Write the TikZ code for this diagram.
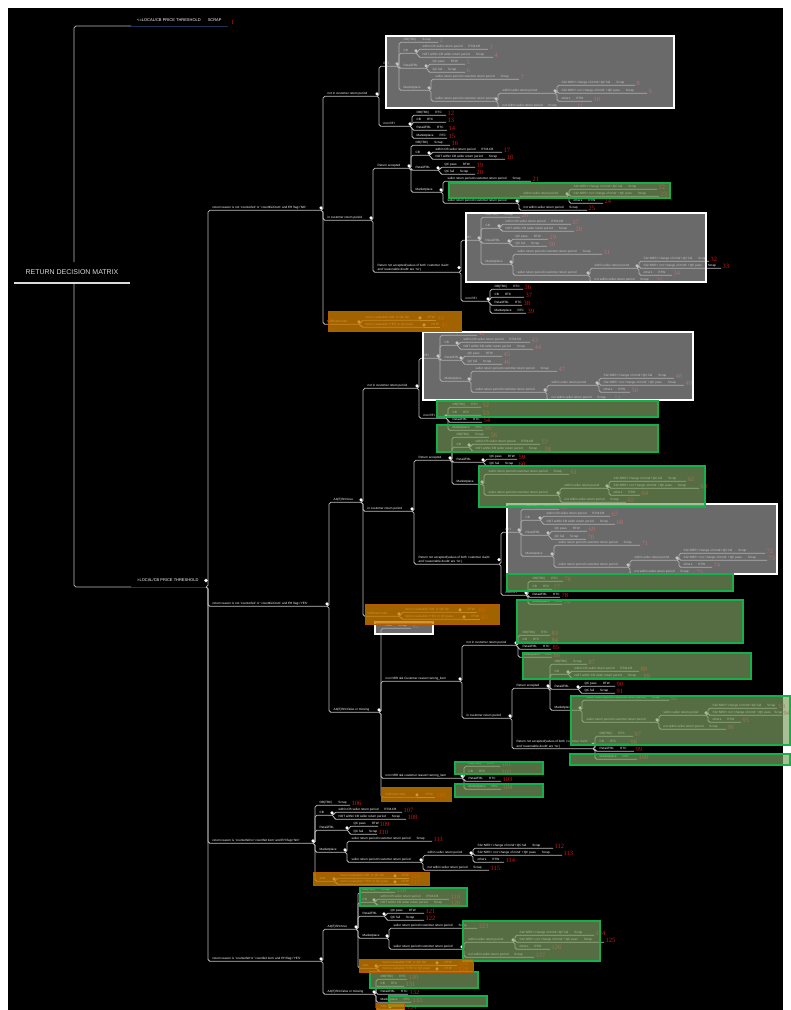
\documentclass[tikz,border=0pt]{standalone}
\usepackage{fontspec}
\setmainfont{Liberation Sans}
\newfontfamily\numfont{Liberation Serif}
\pgfdeclarelayer{bg}
\pgfdeclarelayer{fg}
\pgfsetlayers{bg,main,fg}

\definecolor{linec}{HTML}{BDBDBD}
\definecolor{navyc}{HTML}{22335A}
\definecolor{numc}{HTML}{D01818}
\definecolor{rootc}{HTML}{DADADA}
\definecolor{greenb}{HTML}{14B04C}
\definecolor{greenf}{HTML}{80A264}
\definecolor{grayf}{HTML}{A6A6A6}
\definecolor{orangef}{HTML}{C87C00}
\definecolor{oranged}{HTML}{B85A00}

\tikzset{
  conn/.style={draw=linec, line width=0.75pt, rounded corners=1.8pt},
  navyline/.style={draw=navyc, line width=1pt},
  rootline/.style={draw=rootc, line width=2.2pt},
  roottext/.style={text=rootc, font=\fontsize{7}{8}\selectfont, inner sep=0pt},
  rtopic/.style={anchor=west, inner xsep=6pt, inner ysep=0.5pt, text=white, font=\fontsize{4}{5}\selectfont},
  topic/.style={anchor=south west, inner xsep=4.5pt, inner ysep=0.8pt, text=white,
    font=\fontsize{3.1}{3.8}\selectfont, text height=2.3pt, text depth=0.7pt},
  topicII/.style={anchor=south west, inner xsep=4.5pt, inner ysep=0.8pt, text=white,
    font=\fontsize{3.1}{4.4}\selectfont, align=left},
  num/.style={anchor=base west, inner sep=0pt, text=numc, font=\numfont\fontsize{6.5}{6.5}\selectfont},
  knob/.style={fill=white},
  graybox/.style={fill=grayf, fill opacity=0.64, draw=white, line width=2.4pt},
  greenbox/.style={fill=greenf, fill opacity=0.68, draw=greenb, line width=2.3pt},
  orangebox/.style={fill=orangef, fill opacity=0.8, draw=oranged, line width=1pt},
}

% gap between a condition and its outcome
\newcommand\gp{\hspace{6pt}}
% topic: [style]{name}{parent}{x start}{x end}{y}{text}
\newcommand\tpc[7][topic]{%
  \node[#1] (#2) at (#4,#6+2.3) {#7};%
  \coordinate (#2-e) at (#5,#6+2.3);%
  \begin{pgfonlayer}{bg}\draw[conn] (#3-e) -| (#2.south west) -- (#2-e);\end{pgfonlayer}}
% topic with a collapse knob
\newcommand\td[7][topic]{\tpc[#1]{#2}{#3}{#4}{#5}{#6}{#7}\fill[knob] (#2-e |- #2.east) circle (1.7pt);}
% leaf with its case number
\newcommand\lf[8][topic]{\tpc[#1]{#2}{#3}{#4}{#5}{#6}{#7}\node[num] (#2-n) at ([xshift=1.5pt]#2-e) {#8};}
% leaf in line with its parent
\newcommand\lfs[7]{%
  \node[topic] (#1) at (#3,#5+2.3) {#6};%
  \coordinate (#1-e) at (#4,#5+2.3);%
  \begin{pgfonlayer}{bg}\draw[conn] (#2-e) -- (#1-e);\end{pgfonlayer}%
  \node[num] (#1-n) at ([xshift=1.5pt]#1-e) {#7};}

\begin{document}
\begin{tikzpicture}[x=1pt,y=-1pt]
\useasboundingbox (0,0) rectangle (791,1010);
\begin{pgfonlayer}{bg}
  \fill[white] (0,0) rectangle (791,1010);
  \fill[black] (8,8) rectangle (783,1010);
\end{pgfonlayer}

% ---------- root ----------
\node[roottext] (root) at (72,272) {RETURN DECISION MATRIX};
\coordinate (root-n) at (74,262);
\coordinate (root-s) at (74,283);
\draw[rootline] (root-s -| 14,0) -- (root-s -| 130,0);

\node[rtopic] (R1) at (131,20) {<=LOCAL/CB PRICE THRESHOLD\hspace{7pt}SCRAP};
\coordinate (R1-s) at (131,26);
\coordinate (R1-e) at (228,26);
\node[num] (R1-n) at (231,24) {1};
\node[rtopic] (R2) at (131,580.5) {>LOCAL/CB PRICE THRESHOLD};
\coordinate (R2-s) at (131,587);
\coordinate (R2-e) at (206,587);
\begin{pgfonlayer}{bg}
  \draw[conn] (root-n) |- (R1-s);
  \draw[conn] (root-s) |- (R2-s);
  \draw[navyline] (R1-s) -- (R1-e);
  \draw[navyline] (R2-s) -- (R2-e);
\end{pgfonlayer}
\fill[knob] (R2-e |- R2.east) circle (1.8pt);

% ---------- not counterfeit, EH = NO ----------
\td{A}{R2}{208}{321}{208}{return reason is not 'counterfeit' or 'counttfeit item' and EH flag='NO'}
\td{A1}{A}{323}{377}{94}{not in customer return period}
\td{A1a}{A1}{379}{397}{64}{RFI}
\lf{A1a1}{A1a}{399}{438}{40}{OB(TBC)\gp Scrap}{2}
\td{A1a2}{A1a}{399}{416}{51}{CB}
\lf{A1a2a}{A1a2}{418}{488}{47}{within CB seller return period\gp RTM-CB}{3}
\lf{A1a2b}{A1a2}{418}{493}{55}{NOT within CB seller return period\gp Scrap}{4}
\td{A1a3}{A1a}{399}{426}{66}{Retail/FBL}
\lf{A1a3a}{A1a3}{428}{465}{62}{QC pass\gp RTW}{5}
\lf{A1a3b}{A1a3}{428}{465}{70}{QC fail\gp Scrap}{6}
\td{A1a4}{A1a}{399}{429}{88}{Marketplace}
\lf{A1a4a}{A1a4}{431}{519}{77}{seller return period>customer return period\gp Scrap}{7}
\td{A1a4b}{A1a4}{431}{496}{99}{seller return period<customer return period}
\td{A1a4b1}{A1a4b}{498}{555}{91}{within seller return period}
\lf{A1a4b1a}{A1a4b1}{557}{635}{83}{SG+NRR+'change of mind'+QC fail\gp Scrap}{8}
\lf{A1a4b1b}{A1a4b1}{557}{647}{91}{SG+NRR+ not 'change of mind' +QC pass\gp Scrap}{9}
\lf{A1a4b1c}{A1a4b1}{557}{592}{99}{others\gp RTW}{10}
\lf{A1a4b2}{A1a4b}{498}{575}{106}{not within seller return period\gp Scrap}{11}
\td{A1b}{A1}{379}{410}{124}{non RFI}
\lf{A1b1}{A1b}{412}{446}{113}{OB(TBC)\gp RTC}{12}
\lf{A1b2}{A1b}{412}{446}{120}{CB\gp RTC}{13}
\lf{A1b3}{A1b}{412}{447}{128}{Retail/FBL\gp RTC}{14}
\lf{A1b4}{A1b}{412}{447}{136}{Marketplace\gp RTC}{15}

\td{A2}{A}{323}{371}{218}{in customer return period}
\td{A2a}{A2}{373}{409}{166}{Return accepted}
\lf{A2a1}{A2a}{411}{450}{143}{OB(TBC)\gp Scrap}{16}
\td{A2a2}{A2a}{411}{429}{153}{CB}
\lf{A2a2a}{A2a2}{431}{502}{150}{within CB seller return period\gp RTM-CB}{17}
\lf{A2a2b}{A2a2}{431}{505}{157}{NOT within CB seller return period\gp Scrap}{18}
\td{A2a3}{A2a}{411}{438}{168}{Retail/FBL}
\lf{A2a3a}{A2a3}{440}{475}{165}{QC pass\gp RTW}{19}
\lf{A2a3b}{A2a3}{440}{475}{172}{QC fail\gp Scrap}{20}
\td{A2a4}{A2a}{411}{441}{190}{Marketplace}
\lf{A2a4a}{A2a4}{443}{531}{179}{seller return period>customer return period\gp Scrap}{21}
\td{A2a4b}{A2a4}{443}{517}{201}{seller return period<customer return period}
\td{A2a4b1}{A2a4b}{519}{567}{194}{within seller return period}
\lf{A2a4b1a}{A2a4b1}{569}{657}{187}{SG+NRR+'change of mind'+QC fail\gp Scrap}{22}
\lf{A2a4b1b}{A2a4b1}{569}{659}{194}{SG+NRR+ not 'change of mind' +QC pass\gp Scrap}{23}
\lf{A2a4b1c}{A2a4b1}{569}{603}{201}{others\gp RTW}{24}
\lf{A2a4b2}{A2a4b}{519}{587}{208}{not within seller return period\gp Scrap}{25}

\td[topicII]{A2b}{A2}{373}{459}{270}{Return not accepted(values of both 'customer claim'\\ and 'reasonable doubt' are 'no')}
\td{A2b1}{A2b}{461}{479}{238}{RFI}
\lf{A2b1a}{A2b1}{481}{520}{215}{OB(TBC)\gp Scrap}{26}
\td{A2b1b}{A2b1}{481}{499}{226}{CB}
\lf{A2b1b1}{A2b1b}{501}{571}{222}{within CB seller return period\gp RTM-CB}{27}
\lf{A2b1b2}{A2b1b}{501}{574}{229}{NOT within CB seller return period\gp Scrap}{28}
\td{A2b1c}{A2b1}{481}{509}{241}{Retail/FBL}
\lf{A2b1c1}{A2b1c}{511}{548}{237}{QC pass\gp RTW}{29}
\lf{A2b1c2}{A2b1c}{511}{547}{244}{QC fail\gp Scrap}{30}
\td{A2b1d}{A2b1}{481}{511}{262}{Marketplace}
\lf{A2b1d1}{A2b1d}{513}{602}{252}{seller return period>customer return period\gp Scrap}{31}
\td{A2b1d2}{A2b1d}{513}{588}{273}{seller return period<customer return period}
\td{A2b1d2a}{A2b1d2}{590}{637}{266}{within seller return period}
\lf{A2b1d2a1}{A2b1d2a}{639}{709}{259}{SG+NRR+'change of mind'+QC fail\gp Scrap}{32}
\lf{A2b1d2a2}{A2b1d2a}{639}{721}{266}{SG+NRR+ not 'change of mind' +QC pass\gp Scrap}{33}
\lf{A2b1d2a3}{A2b1d2a}{639}{672}{273}{others\gp RTW}{34}
\lf{A2b1d2b}{A2b1d2}{590}{655}{280}{not within seller return period\gp Scrap}{35}
\td{A2b2}{A2b}{461}{488}{299}{non RFI}
\lf{A2b2a}{A2b2}{490}{523}{287}{OB(TBC)\gp RTC}{36}
\lf{A2b2b}{A2b2}{490}{524}{295}{CB\gp RTC}{37}
\lf{A2b2c}{A2b2}{490}{522}{303}{Retail/FBL\gp RTC}{38}
\lf{A2b2d}{A2b2}{490}{526}{311}{Marketplace\gp RTC}{39}

\td{A3}{A}{323}{359}{322}{fulfilment=AGL}
\td{A3a}{A3}{361}{420}{318}{Item is saleable='NO' or QC fail}
\lfs{A3a1}{A3a}{423}{436}{318}{RTW}{40}
\td{A3b}{A3}{361}{424}{325}{Item is saleable='YES' or QC pass}
\lfs{A3b1}{A3b}{427}{440}{325}{RTW}{41}

% ---------- not counterfeit, EH = YES ----------
\td{B}{R2}{208}{327}{604}{return reason is not 'counterfeit' or 'counttfeit item' and EH flag='YES'}
\td{B1}{B}{329}{361}{500}{A4(E)SN=true}
\td{B1a}{B1}{363}{417}{386}{not in customer return period}
\td{B1a1}{B1a}{419}{438}{356}{RFI}
\lf{B1a1a}{B1a1}{440}{477}{333}{OB(TBC)\gp Scrap}{42}
\td{B1a1b}{B1a1}{440}{457}{343}{CB}
\lf{B1a1b1}{B1a1b}{459}{530}{340}{within CB seller return period\gp RTM-CB}{43}
\lf{B1a1b2}{B1a1b}{459}{533}{347}{NOT within CB seller return period\gp Scrap}{44}
\td{B1a1c}{B1a1}{440}{461}{358}{Retail/FBL}
\lf{B1a1c1}{B1a1c}{463}{502}{354}{QC pass\gp RTW}{45}
\lf{B1a1c2}{B1a1c}{463}{502}{362}{QC fail\gp Scrap}{46}
\td{B1a1d}{B1a1}{440}{469}{379}{Marketplace}
\lf{B1a1d1}{B1a1d}{471}{557}{369}{seller return period>customer return period\gp Scrap}{47}
\td{B1a1d2}{B1a1d}{471}{545}{390}{seller return period<customer return period}
\td{B1a1d2a}{B1a1d2}{547}{597}{383}{within seller return period}
\lf{B1a1d2a1}{B1a1d2a}{599}{674}{376}{SG+NRR+'change of mind'+QC fail\gp Scrap}{48}
\lf{B1a1d2a2}{B1a1d2a}{599}{684}{383}{SG+NRR+ not 'change of mind' +QC pass\gp Scrap}{49}
\lf{B1a1d2a3}{B1a1d2a}{599}{630}{390}{others\gp RTW}{50}
\lf{B1a1d2b}{B1a1d2}{547}{613}{398}{not within seller return period\gp Scrap}{51}
\td{B1a2}{B1a}{419}{446}{416}{non RFI}
\lf{B1a2a}{B1a2}{448}{481}{405}{OB(TBC)\gp RTC}{52}
\lf{B1a2b}{B1a2}{448}{481}{413}{CB\gp RTC}{53}
\lf{B1a2c}{B1a2}{448}{482}{420}{Retail/FBL\gp RTC}{54}
\lf{B1a2d}{B1a2}{448}{483}{428}{Marketplace\gp RTC}{55}

\td{B1b}{B1}{363}{412}{509}{in customer return period}
\td{B1b1}{B1b}{414}{450}{458}{Return accepted}
\lf{B1b1a}{B1b1}{452}{489}{435}{OB(TBC)\gp Scrap}{56}
\td{B1b1b}{B1b1}{452}{469}{445}{CB}
\lf{B1b1b1}{B1b1b}{471}{540}{442}{within CB seller return period\gp RTM-CB}{57}
\lf{B1b1b2}{B1b1b}{471}{543}{449}{NOT within CB seller return period\gp Scrap}{58}
\td{B1b1c}{B1b1}{452}{483}{460}{Retail/FBL}
\lf{B1b1c1}{B1b1c}{485}{517}{457}{QC pass\gp RTW}{59}
\lf{B1b1c2}{B1b1c}{485}{517}{464}{QC fail\gp Scrap}{60}
\td{B1b1d}{B1b1}{452}{482}{482}{Marketplace}
\lf{B1b1d1}{B1b1d}{484}{569}{472}{seller return period>customer return period\gp Scrap}{61}
\td{B1b1d2}{B1b1d}{484}{558}{493}{seller return period<customer return period}
\td{B1b1d2a}{B1b1d2}{560}{607}{486}{within seller return period}
\lf{B1b1d2a1}{B1b1d2a}{609}{686}{479}{SG+NRR+'change of mind'+QC fail\gp Scrap}{62}
\lf{B1b1d2a2}{B1b1d2a}{609}{699}{486}{SG+NRR+ not 'change of mind' +QC pass\gp Scrap}{63}
\lf{B1b1d2a3}{B1b1d2a}{609}{640}{493}{others\gp RTW}{64}
\lf{B1b1d2b}{B1b1d2}{560}{626}{500}{not within seller return period\gp Scrap}{65}

\td[topicII]{B1b2}{B1b}{414}{499}{562}{Return not accepted(values of both 'customer claim'\\ and 'reasonable doubt' are 'no')}
\td{B1b2a}{B1b2}{501}{519}{530}{RFI}
\lf{B1b2a1}{B1b2a}{521}{559}{507}{OB(TBC)\gp Scrap}{66}
\td{B1b2a2}{B1b2a}{521}{540}{518}{CB}
\lf{B1b2a2a}{B1b2a2}{542}{610}{514}{within CB seller return period\gp RTM-CB}{67}
\lf{B1b2a2b}{B1b2a2}{542}{615}{522}{NOT within CB seller return period\gp Scrap}{68}
\td{B1b2a3}{B1b2a}{521}{548}{533}{Retail/FBL}
\lf{B1b2a3a}{B1b2a3}{550}{587}{529}{QC pass\gp RTW}{69}
\lf{B1b2a3b}{B1b2a3}{550}{586}{537}{QC fail\gp Scrap}{70}
\td{B1b2a4}{B1b2a}{521}{552}{554}{Marketplace}
\lf{B1b2a4a}{B1b2a4}{554}{640}{543}{seller return period>customer return period\gp Scrap}{71}
\td{B1b2a4b}{B1b2a4}{554}{628}{565}{seller return period<customer return period}
\td{B1b2a4b1}{B1b2a4b}{630}{677}{558}{within seller return period}
\lf{B1b2a4b1a}{B1b2a4b1}{679}{765}{551}{SG+NRR+'change of mind'+QC fail\gp Scrap}{72}
\lf{B1b2a4b1b}{B1b2a4b1}{679}{767}{558}{SG+NRR+ not 'change of mind' +QC pass\gp Scrap}{73}
\lf{B1b2a4b1c}{B1b2a4b1}{679}{712}{565}{others\gp RTW}{74}
\lf{B1b2a4b2}{B1b2a4b}{630}{695}{572}{not within seller return period\gp Scrap}{75}
\td{B1b2b}{B1b2}{501}{526}{593}{non RFI}
\lf{B1b2b1}{B1b2b}{528}{563}{579}{OB(TBC)\gp RTC}{76}
\lf{B1b2b2}{B1b2b}{528}{552}{587}{CB\gp RTC}{77}
\lf{B1b2b3}{B1b2b}{528}{560}{595}{Retail/FBL\gp RTC}{78}
\lf{B1b2b4}{B1b2b}{528}{562}{602}{Marketplace\gp RTC}{79}

\td{B1c}{B1}{363}{399}{614}{fulfilment=AGL}
\td{B1c1}{B1c}{401}{460}{610}{Item is saleable='NO' or QC fail}
\lfs{B1c1a}{B1c1}{463}{477}{610}{RTW}{80}
\td{B1c2}{B1c}{401}{464}{617}{Item is saleable='YES' or QC pass}
\lfs{B1c2a}{B1c2}{467}{480}{617}{RTW}{81}

\td{B2}{B}{329}{379}{710}{A4(E)SN=false or missing}
\lf{B2a}{B2}{381}{411}{626}{NRR\gp Scrap}{82}
\td{B2b}{B2}{381}{460}{679}{non NRR \&\& Customer reason=wrong\_item}
\td{B2b1}{B2b}{462}{516}{643}{not in customer return period}
\lf{B2b1a}{B2b1}{518}{550}{633}{OB(TBC)\gp RTC}{83}
\lf{B2b1b}{B2b1}{518}{550}{640}{CB\gp RTC}{84}
\lf{B2b1c}{B2b1}{518}{551}{647}{Retail/FBL\gp RTC}{85}
\lf{B2b1d}{B2b1}{518}{552}{655}{Marketplace\gp RTC}{86}
\td{B2b2}{B2b}{462}{510}{716}{in customer return period}
\td{B2b2a}{B2b2}{512}{548}{686}{Return accepted}
\lf{B2b2a1}{B2b2a}{550}{587}{662}{OB(TBC)\gp Scrap}{87}
\td{B2b2a2}{B2b2a}{550}{568}{672}{CB}
\lf{B2b2a2a}{B2b2a2}{570}{639}{669}{within CB seller return period\gp RTM-CB}{88}
\lf{B2b2a2b}{B2b2a2}{570}{642}{676}{NOT within CB seller return period\gp Scrap}{89}
\td{B2b2a3}{B2b2a}{550}{578}{687}{Retail/FBL}
\lf{B2b2a3a}{B2b2a3}{580}{615}{684}{QC pass\gp RTW}{90}
\lf{B2b2a3b}{B2b2a3}{580}{615}{691}{QC fail\gp Scrap}{91}
\td{B2b2a4}{B2b2a}{550}{580}{708}{Marketplace}
\lf{B2b2a4a}{B2b2a4}{582}{669}{698}{seller return period>customer return period\gp Scrap}{92}
\td{B2b2a4b}{B2b2a4}{582}{657}{720}{seller return period<customer return period}
\td{B2b2a4b1}{B2b2a4b}{659}{706}{713}{within seller return period}
\lf{B2b2a4b1a}{B2b2a4b1}{708}{777}{706}{SG+NRR+'change of mind'+QC fail\gp Scrap}{93}
\lf{B2b2a4b1b}{B2b2a4b1}{708}{782}{713}{SG+NRR+ not 'change of mind' +QC pass\hspace{3.5pt}Scrap}{94}
\lf{B2b2a4b1c}{B2b2a4b1}{708}{741}{720}{others\gp RTW}{95}
\lf{B2b2a4b2}{B2b2a4b}{659}{726}{727}{not within seller return period\gp Scrap}{96}
\td[topicII]{B2b2b}{B2b2}{512}{593}{746.5}{Return not accepted(values of both 'customer claim'\\ and 'reasonable doubt' are 'no')}
\lf{B2b2b1}{B2b2b}{595}{633}{734}{OB(TBC)\gp RTC}{97}
\lf{B2b2b2}{B2b2b}{595}{629}{742}{CB\gp RTC}{98}
\lf{B2b2b3}{B2b2b}{595}{634}{749}{Retail/FBL\gp RTC}{99}
\lf{B2b2b4}{B2b2b}{595}{637}{757}{Marketplace\gp RTC}{100}
\td{B2c}{B2}{381}{462}{776}{non NRR \&\& customer reason!=wrong\_item}
\lf{B2c1}{B2c}{464}{500}{764}{OB(TBC)\gp RTC}{101}
\lf{B2c2}{B2c}{464}{500}{772}{CB\gp RTC}{102}
\lf{B2c3}{B2c}{464}{501}{779}{Retail/FBL\gp RTC}{103}
\lf{B2c4}{B2c}{464}{501}{787}{Marketplace\gp RTC}{104}
\td{B2d}{B2}{381}{417}{795}{fulfilment=AGL}
\lfs{B2d1}{B2d}{421}{435}{795}{RTW}{105}

% ---------- counterfeit, EH = NO ----------
\td{C}{R2}{208}{313}{841}{return reason is 'counterfeit/or 'countfeit item' and EH flag='NO'}
\lf{C1}{C}{315}{350}{803}{OB(TBC)\gp Scrap}{106}
\td{C2}{C}{315}{332}{813}{CB}
\lf{C2a}{C2}{334}{402}{810}{within CB seller return period\gp RTM-CB}{107}
\lf{C2b}{C2}{334}{406}{817}{NOT within CB seller return period\gp Scrap}{108}
\td{C3}{C}{315}{347}{828}{Retail/FBL}
\lf{C3a}{C3}{349}{378}{824}{QC pass\gp RTW}{109}
\lf{C3b}{C3}{349}{377}{832}{QC fail\gp Scrap}{110}
\td{C4}{C}{315}{345}{850}{Marketplace}
\lf{C4a}{C4}{347}{432}{839}{seller return period>customer return period\gp Scrap}{111}
\td{C4b}{C4}{347}{421}{860}{seller return period<customer return period}
\td{C4b1}{C4b}{423}{471}{853}{within seller return period}
\lf{C4b1a}{C4b1}{473}{553}{846}{SG+NRR+'change of mind'+QC fail\gp Scrap}{112}
\lf{C4b1b}{C4b1}{473}{562}{853}{SG+NRR+ not 'change of mind' +QC pass\gp Scrap}{113}
\lf{C4b1c}{C4b1}{473}{504}{860}{others\gp RTW}{114}
\lf{C4b2}{C4b}{423}{489}{868}{not within seller return period\gp Scrap}{115}
\td{C5}{C}{315}{334}{879}{AGL}
\td{C5a}{C5}{336}{395}{876}{Item is saleable='NO' or QC fail}
\lfs{C5a1}{C5a}{397}{409}{876}{RTW}{116}
\td{C5b}{C5}{336}{395}{882}{Item is saleable='YES' or QC pass}
\lfs{C5b1}{C5b}{397}{409}{882}{RTW}{117}

% ---------- counterfeit, EH = YES ----------
\td{D}{R2}{208}{321}{959}{return reason is 'counterfeit'or 'countfeit item' and EH flag='YES'}
\td{D1}{D}{323}{356}{927}{A4(E)SN=true}
\lf{D1a}{D1}{358}{395}{890}{OB(TBC)\gp Scrap}{118}
\td{D1b}{D1}{358}{374}{900}{CB}
\lf{D1b1}{D1b}{376}{449}{897}{within CB seller return period\gp RTM-CB}{119}
\lf{D1b2}{D1b}{376}{449}{903}{NOT within CB seller return period\gp Scrap}{120}
\td{D1c}{D1}{358}{384}{914}{Retail/FBL}
\lf{D1c1}{D1c}{386}{424}{911}{QC pass\gp RTW}{121}
\lf{D1c2}{D1c}{386}{424}{918}{QC fail\gp Scrap}{122}
\td{D1d}{D1}{358}{387}{936}{Marketplace}
\lf{D1d1}{D1d}{389}{477}{926}{seller return period>customer return period\gp Scrap}{123}
\td{D1d2}{D1d}{389}{462}{947}{seller return period<customer return period}
\td{D1d2a}{D1d2}{464}{513}{940}{within seller return period}
\lf{D1d2a1}{D1d2a}{515}{594}{933}{SG+NRR+'change of mind'+QC fail\gp Scrap}{124}
\lf{D1d2a2}{D1d2a}{515}{604}{940}{SG+NRR+ not 'change of mind' +QC pass\gp Scrap}{125}
\lf{D1d2a3}{D1d2a}{515}{550}{947}{others\gp RTW}{126}
\lf{D1d2b}{D1d2}{464}{534}{955}{not within seller return period\gp Scrap}{127}
\td{D1e}{D1}{358}{376}{966}{AGL}
\td{D1e1}{D1e}{378}{437}{963}{Item is saleable='NO' or QC fail}
\lfs{D1e1a}{D1e1}{440}{457}{963}{RTW}{128}
\td{D1e2}{D1e}{378}{437}{969}{Item is saleable='YES' or QC pass}
\lfs{D1e2a}{D1e2}{440}{457}{969}{RTW}{129}
\td{D2}{D}{323}{374}{992}{A4(E)SN=false or missing}
\lf{D2a}{D2}{376}{407}{977}{OB(TBC)\gp RTC}{130}
\lf{D2b}{D2}{376}{404}{984}{CB\gp RTC}{131}
\lf{D2c}{D2}{376}{408}{992}{Retail/FBL\gp RTC}{132}
\lf{D2d}{D2}{376}{411}{1000}{Marketplace\gp RTC}{133}
\td{D2e}{D2}{376}{390}{1007}{AGL}
\lfs{D2e1}{D2e}{392}{405}{1007}{RTW}{134}

% ---------- highlight frames ----------
\begin{pgfonlayer}{fg}
  \path[graybox] (386,36) rectangle (674,108);
  \path[graybox] (466,213) rectangle (706,282);
  \path[graybox] (423,332) rectangle (693,400);
  \path[graybox] (507,504) rectangle (777,574);
  \path[graybox] (375,622) rectangle (433,634);
  \path[greenbox] (449,183) rectangle (670,198);
  \path[greenbox] (437,401) rectangle (658,417);
  \path[greenbox] (437,425) rectangle (658,452);
  \path[greenbox] (479,466) rectangle (705,507);
  \path[greenbox] (507,574) rectangle (733,591);
  \path[greenbox] (517,600) rectangle (743,643);
  \path[greenbox] (523,653) rectangle (751,679);
  \path[greenbox] (571,696) rectangle (790,745);
  \path[greenbox] (570,754) rectangle (790,765);
  \path[greenbox] (455,762) rectangle (543,774);
  \path[greenbox] (455,784) rectangle (543,797);
  \path[greenbox] (360,888) rectangle (467,906);
  \path[greenbox] (463,921) rectangle (600,961);
  \path[greenbox] (370,972) rectangle (478,988);
  \path[greenbox] (389,996) rectangle (487,1006);
  \path[orangebox] (328,311) rectangle (461,331);
  \path[orangebox] (365,604) rectangle (499,624);
  \path[orangebox] (381,787) rectangle (451,801);
  \path[orangebox] (313,872) rectangle (429,885);
  \path[orangebox] (359,959) rectangle (473,972);
  \path[orangebox] (376,1003) rectangle (404,1012);
\end{pgfonlayer}
\end{tikzpicture}
\end{document}
